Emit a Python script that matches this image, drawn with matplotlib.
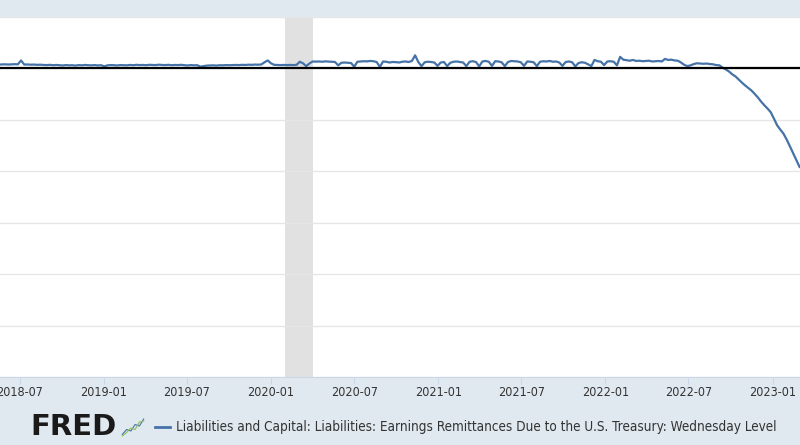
import matplotlib
matplotlib.use("Agg")
import matplotlib.pyplot as plt
import matplotlib.dates as mdates
import pandas as pd

# weekly (Wednesday) values, millions of dollars
values = [
    1500, 1550, 1600, 1520, 1580, 1650, 1600,            # 2018-05-16 ..
    3100,
    1500, 1550, 1450, 1500, 1400, 1450, 1350, 1300, 1400, 1250, 1350,
    1250, 1150, 1300, 1200, 1250, 1100, 1300, 1200, 1350, 1250, 1200, 1300, 1150, 1250,
    800,
    1200, 1300, 1250, 1150, 1300, 1250, 1200,
    1350, 1250, 1400, 1300, 1350, 1250, 1400, 1350, 1300, 1450, 1350,
    1300, 1400, 1250, 1350, 1300, 1400, 1250, 1150, 1300, 1200, 1250,
    700, 900,
    1100, 1150, 1200, 1100, 1250, 1200, 1300, 1250, 1300,
    1350, 1300, 1400, 1350, 1450, 1400, 1500, 1450, 1550,
    2400, 3100, 2000,                                      # year end 2019
    1400, 1350, 1300, 1350, 1300, 1350, 1300, 1400,
    2600, 2000, 900, 1900,
    2700, 2650, 2700, 2600, 2750, 2650, 2600, 2500,
    1200,
    2200, 2300, 2200, 2100,
    700,
    2600, 2700, 2800, 2750, 2900, 2800,
    2500, 600,
    2700, 2600, 2300, 2500, 2450, 2300, 2600, 2700, 2500, 2900,
    5100, 2500, 900,
    2400, 2600, 2500, 2300,
    1000, 2300, 2500,
    900,
    2200, 2600, 2700, 2500, 2300, 900,
    2600, 2800, 2500, 800,
    2700, 2900, 2600, 1000,
    2800, 2700, 2400, 900,
    2500, 2900, 2800, 2700, 2400, 1000,
    2700, 2600, 2400, 900,
    2600, 2800, 2700, 2900, 2600, 2700, 2300, 1000,
    2500, 2700, 2400, 800,
    2100, 2400, 2200, 1600, 900,
    3300, 2800, 2600, 1300,
    2700, 2800, 2600, 1200,
    4500, 3400, 3200, 3000, 3300,
    2900, 3000, 2800, 2900, 3000, 2700, 2800, 2900, 2700,
    3700, 3300, 3400, 3100, 3000,
    2300, 1400, 900, 1200, 1700, 2000, 1900, 1800, 1900, 1700, 1600, 1300, 1200, 300,
    -400, -1200, -2300, -3100, -4300, -5500, -6600, -7600, -8600, -9900,
    -11300, -12900, -14300, -15600, -17000, -19500, -22100, -23800, -25400,
    -27700, -30300, -33000, -35800, -38300,                # .. 2023-03-01
]
dates = pd.date_range("2018-05-16", periods=len(values), freq="W-WED")

recession_start = "2020-02-01"
recession_end = "2020-04-01"
legend_text = ("Liabilities and Capital: Liabilities: Earnings Remittances Due "
               "to the U.S. Treasury: Wednesday Level")

bg = "#e1e9f0"
W, H = 800, 445

fig = plt.figure(figsize=(8, 4.45), dpi=100, facecolor=bg)
ax = fig.add_axes([0, 1 - 377 / H, 1, (377 - 17) / H])
ax.set_facecolor("white")

ax.axvspan(pd.Timestamp(recession_start), pd.Timestamp(recession_end),
           color="#e1e1e1", zorder=0, lw=0)
ax.plot(dates, values, color="#4572a7", lw=1.6, zorder=3)
ax.axhline(0, color="black", lw=1.6, zorder=4)

ax.set_ylim(-120000, 20000)
ax.set_yticks(range(-120000, 20001, 20000))
ax.set_xlim(pd.Timestamp("2018-05-19"), pd.Timestamp("2023-03-02"))
ax.grid(axis="y", color="#e6e6e6", lw=1)
ax.set_axisbelow(True)
ax.tick_params(axis="y", left=False, labelleft=False)

ax.xaxis.set_major_locator(mdates.MonthLocator(bymonth=[1, 7]))
ax.xaxis.set_major_formatter(mdates.DateFormatter("%Y-%m"))
ax.tick_params(axis="x", length=5, color="#ccd6eb", labelcolor="#333333",
               labelsize=9, pad=1.5)
for lab in ax.get_xticklabels():
    lab.set_fontstretch("condensed")

for s in ["top", "left", "right"]:
    ax.spines[s].set_visible(False)
ax.spines["bottom"].set_color("#ccd6eb")

# footer: logo + legend
fig.text(30 / W, 1 - 427 / H, "FRED", fontsize=21, fontweight="heavy",
         color="#1a1a1a", va="center", ha="left")
icon = fig.add_axes([121 / W, 1 - 437 / H, 24 / W, 20 / H])
icon.set_facecolor("#dfe6ec")
icon.plot([0, 1, 2, 3, 4, 5], [0.5, 1.5, 1.2, 2.5, 2.2, 3.6], color="#4572a7", lw=0.8)
icon.plot([0, 1, 2, 3, 4, 5], [0.2, 0.9, 1.8, 1.5, 3.0, 3.2], color="#8bbf5a", lw=0.8)
icon.set_xlim(-0.3, 5.3)
icon.set_ylim(0, 4)
icon.axis("off")

fig.lines.append(plt.Line2D([155 / W, 170 / W], [1 - 427 / H] * 2,
                            transform=fig.transFigure, color="#4572a7", lw=2))
leg = fig.text(176 / W, 1 - 427 / H, legend_text, fontsize=10, color="#333333",
               va="center", ha="left", fontstretch="condensed")

# shrink the legend text until it ends where the reference's does (~x=780)
r = fig.canvas.get_renderer()
width = leg.get_window_extent(r).width
leg.set_fontsize(10 * min(1.0, 604 / width))

fig.savefig("out.png", dpi=100, facecolor=bg)
